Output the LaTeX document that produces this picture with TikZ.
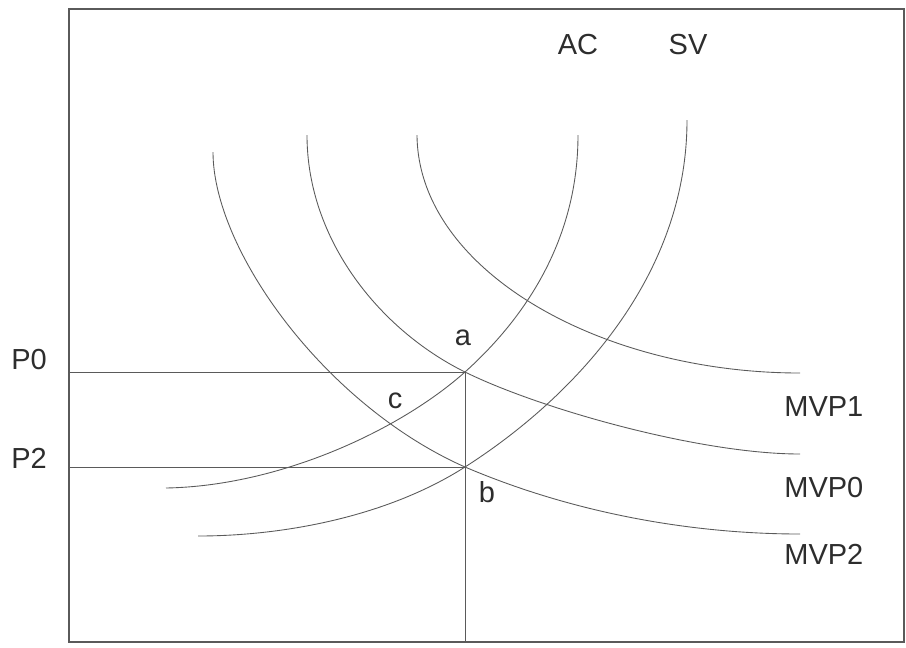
\documentclass[tikz,border=0pt]{standalone}
\usepackage{fontspec}
\setmainfont{Liberation Sans}
\definecolor{inkline}{RGB}{90,90,90}
\definecolor{inktext}{RGB}{45,45,45}

\begin{document}
\begin{tikzpicture}[x=0.02cm, y=-0.02cm,
    curve/.style={inkline, line width=0.5pt},
    guide/.style={inkline, line width=0.5pt},
    lbl/.style={inktext, font=\fontsize{16.5}{18}\selectfont, inner sep=0pt}]
  \useasboundingbox (0,0) rectangle (906,647);

  % Frame
  \draw[inkline, line width=0.7pt] (69,9) rectangle (904,642);

  % Key points
  \coordinate (a) at (465,372);
  \coordinate (b) at (465,467);
  \coordinate (yP0) at (69,0 |- a);
  \coordinate (yP2) at (69,0 |- b);
  \coordinate (xab) at (a |- 0,642);

  % MVP curves
  \draw[curve] (213,152) .. controls (213,250) and (325,405) .. (b)
               .. controls (580,516) and (700,534) .. (800,534);
  \draw[curve] (307,135) .. controls (307,240) and (380,330) .. (a)
               .. controls (540,409) and (700,454) .. (800,454);
  \draw[curve] (417,135) .. controls (418,270) and (600,373) .. (800,373);

  % AC and SV
  \draw[curve] (578,135) .. controls (578,240) and (525,318) .. (a)
               .. controls (400,430) and (280,486) .. (166,488);
  \draw[curve] (687,120) .. controls (687,280) and (570,400) .. (b)
               .. controls (385,518) and (280,536) .. (198,536);

  % Price lines
  \draw[guide] (yP0) -- (a) -- (xab);
  \draw[guide] (yP2) -- (b);

  % Labels
  \node[lbl] (acL) at (578,45) {AC};
  \node[lbl] (svL) at (688,45) {SV};
  \node[lbl] (aL) at (463,338) {a};
  \node[lbl] (cL) at (395,401) {c};
  \node[lbl] (bL) at (487,492) {b};
  \node[lbl] (p0L) at (29,360) {P0};
  \node[lbl] (p2L) at (29,458) {P2};
  \node[lbl, anchor=west] (mvp1L) at (784,407) {MVP1};
  \node[lbl, anchor=west] (mvp0L) at (784,488) {MVP0};
  \node[lbl, anchor=west] (mvp2L) at (784,554) {MVP2};
\end{tikzpicture}
\end{document}
